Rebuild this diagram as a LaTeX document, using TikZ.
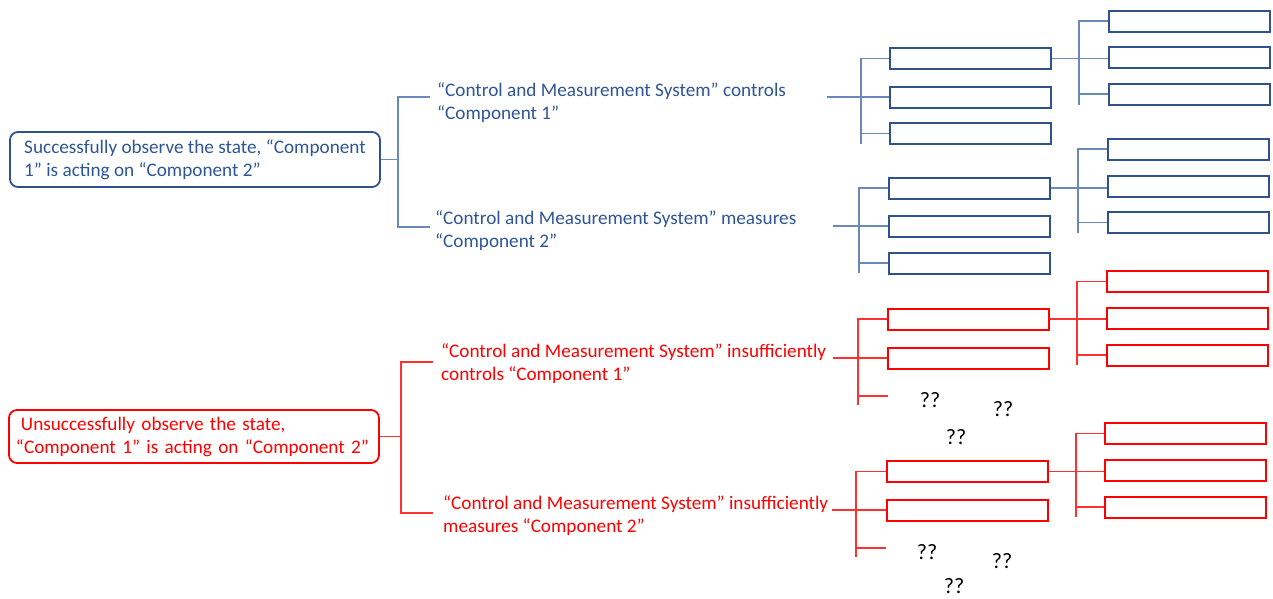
\documentclass[tikz,border=0pt]{standalone}
\usepackage{fontspec}
\setmainfont{Carlito}
\definecolor{bluetx}{HTML}{2F5597}
\definecolor{bluebx}{HTML}{2F528F}
\definecolor{bluecn}{HTML}{6A89B8}
\definecolor{redcn}{HTML}{FF3030}
\tikzset{
  txt/.style={font=\fontsize{19.2}{23}\selectfont},
  bbox/.style={draw=bluebx, line width=2pt, minimum width=161pt, minimum height=21pt, inner sep=0pt},
  rbox/.style={draw=red, line width=2pt, minimum width=161pt, minimum height=21pt, inner sep=0pt},
  bcon/.style={draw=bluecn, line width=1.3pt},
  rcon/.style={draw=redcn, line width=1.1pt},
  blab/.style={txt, text=bluetx, align=left, inner sep=0pt, anchor=west},
  rlab/.style={txt, text=red, align=left, inner sep=0pt, anchor=west},
  bmain/.style={txt, text=bluetx, draw=bluebx, line width=1.8pt, rounded corners=8pt, align=left, minimum width=370pt, inner xsep=0pt, minimum height=55pt},
  rmain/.style={txt, text=red, draw=red, line width=1.8pt, rounded corners=8pt, align=left, text width=356pt, inner xsep=7pt, minimum height=53pt},
  qq/.style={font=\fontsize{22}{24}\selectfont, text=black, inner sep=0pt}
}
\begin{document}
\begin{tikzpicture}[x=1pt,y=-1pt]
\useasboundingbox (0,0) rectangle (1273,598);

% ---------- main boxes ----------
\node[bmain] (b1) at (195,159.5) {Successfully observe the state, “Component\\1” is acting on “Component 2”};
\node[rmain] (r1) at (194,436.5) {\hspace*{5pt}Unsuccessfully observe the state,\\“Component 1” is acting on “Component 2”};

% ---------- labels ----------
\node[blab] (L1) at (437,102.5) {“Control and Measurement System” controls\\“Component 1”};
\node[blab] (L2) at (435,231) {“Control and Measurement System” measures\\“Component 2”};
\node[rlab] (L3) at (441,364) {“Control and Measurement System” insufficiently\\controls “Component 1”};
\node[rlab] (L4) at (443,516) {“Control and Measurement System” insufficiently\\measures “Component 2”};

% ---------- left brackets ----------
\coordinate (b1v) at (398,0);
\coordinate (b1u) at (430,97);
\coordinate (b1d) at (430,227);
\draw[bcon] (b1.east) -- (b1.east -| b1v);
\draw[bcon] (b1u) -- (b1u -| b1v) -- (b1d -| b1v) -- (b1d);

\coordinate (r1v) at (401,0);
\coordinate (r1u) at (433,362);
\coordinate (r1d) at (433,513);
\draw[rcon] (r1.east) -- (r1.east -| r1v);
\draw[rcon] (r1u) -- (r1u -| r1v) -- (r1d -| r1v) -- (r1d);

% ---------- group A (blue, top) ----------
\foreach \n/\y in {1/58.5,2/97,3/133.5} \node[bbox] (A\n) at (970.5,\y) {};
\foreach \n/\y in {4/21,5/57.5,6/94} \node[bbox] (A\n) at (1189.5,\y) {};
\coordinate (Aj) at (827,97);
\coordinate (Av) at (861,144);
\coordinate (Aw) at (1079,105);
\draw[bcon] (Aj) -- (A2.west);
\draw[bcon] (A1.west) -| (Av);
\draw[bcon] (A3.west) -- (A3.west -| Av);
\draw[bcon] (A1.east) -- (A1.east -| A5.west);
\draw[bcon] (A4.west) -| (Aw);
\draw[bcon] (A6.west) -- (A6.west -| Aw);

% ---------- group B (blue) ----------
\foreach \n/\y in {1/188,2/226,3/263} \node[bbox] (B\n) at (969.5,\y) {};
\foreach \n/\y in {4/149,5/186,6/222.5} \node[bbox] (B\n) at (1188.5,\y) {};
\coordinate (Bj) at (833,226);
\coordinate (Bv) at (859,273);
\coordinate (Bw) at (1078,233);
\draw[bcon] (Bj) -- (B2.west);
\draw[bcon] (B1.west) -| (Bv);
\draw[bcon] (B3.west) -- (B3.west -| Bv);
\draw[bcon] (B1.east) -- (B1.east -| B5.west);
\draw[bcon] (B4.west) -| (Bw);
\draw[bcon] (B6.west) -- (B6.west -| Bw);

% ---------- group C (red) ----------
\foreach \n/\y in {1/319,2/358} \node[rbox] (C\n) at (968.5,\y) {};
\foreach \n/\y in {4/281.5,5/318,6/355} \node[rbox] (C\n) at (1187.5,\y) {};
\coordinate (Cj) at (833,358);
\coordinate (Cv) at (858,405);
\coordinate (C3) at (888,396);
\coordinate (Cw) at (1077,365);
\draw[rcon] (Cj) -- (C2.west);
\draw[rcon] (C1.west) -| (Cv);
\draw[rcon] (C3) -- (C3 -| Cv);
\draw[rcon] (C1.east) -- (C1.east -| C5.west);
\draw[rcon] (C4.west) -| (Cw);
\draw[rcon] (C6.west) -- (C6.west -| Cw);
\node[qq] (Cq1) at (930,400) {??};
\node[qq] (Cq2) at (1003,409) {??};
\node[qq] (Cq3) at (956,437) {??};

% ---------- group D (red) ----------
\foreach \n/\y in {1/471.5,2/510} \node[rbox] (D\n) at (967,\y) {};
\foreach \n/\y in {4/433.5,5/470,6/507} \node[rbox] (D\n) at (1185.5,\y) {};
\coordinate (Dj) at (832,510);
\coordinate (Dv) at (856,557);
\coordinate (D3) at (886,548);
\coordinate (Dw) at (1076,517);
\draw[rcon] (Dj) -- (D2.west);
\draw[rcon] (D1.west) -| (Dv);
\draw[rcon] (D3) -- (D3 -| Dv);
\draw[rcon] (D1.east) -- (D1.east -| D5.west);
\draw[rcon] (D4.west) -| (Dw);
\draw[rcon] (D6.west) -- (D6.west -| Dw);
\node[qq] (Dq1) at (927,552) {??};
\node[qq] (Dq2) at (1002,561) {??};
\node[qq] (Dq3) at (954,586) {??};
\end{tikzpicture}
\end{document}
